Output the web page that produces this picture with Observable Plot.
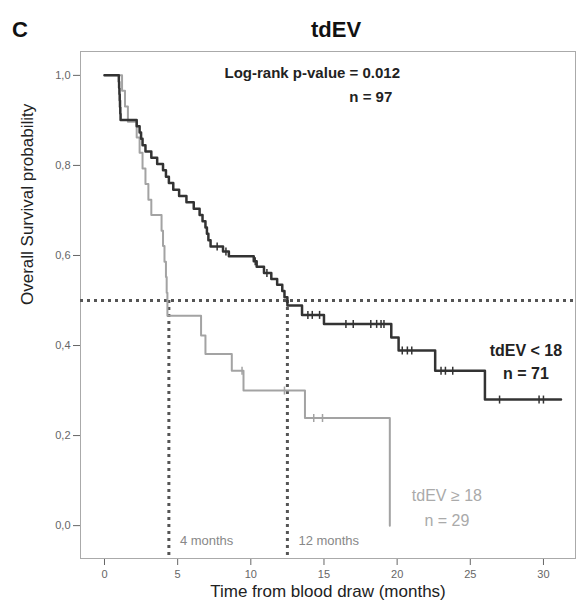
<!DOCTYPE html>
<html>
<head>
<meta charset="utf-8">
<script src="https://cdn.jsdelivr.net/npm/d3@7"></script>
<script src="https://cdn.jsdelivr.net/npm/@observablehq/plot@0.6"></script>
<style>
  body { margin: 0; background: #fff; font-family: "Liberation Sans", Arial, sans-serif; }
  #wrap { width: 578px; height: 605px; position: relative; }
  #title { height: 50px; position: relative; }
  #panel { position: absolute; left: 12px; top: 17px; font-size: 22px; font-weight: bold; color: #111; }
  #main { position: absolute; left: 336px; top: 17px; transform: translateX(-50%); font-size: 22px; font-weight: bold; color: #111; }
</style>
</head>
<body>
<div id="wrap">
  <div id="title"><span id="panel">C</span><span id="main">tdEV</span></div>
  <div id="chart"></div>
</div>
<script>
// tdEV < 18 (n = 71): Kaplan-Meier step times (months) and survival after each step
const lowTimes = [0, 0.98, 1.0, 1.02, 1.04, 1.06, 1.08, 1.1, 2.2, 2.4, 2.5, 2.6, 2.8, 3.2, 3.6, 4.0, 4.2, 4.4, 4.7, 5.1, 5.6, 6.1, 6.5, 6.7, 6.9, 7.0, 7.1, 7.25, 8.1, 8.5, 10.2, 10.4, 10.9, 11.4, 11.8, 12.15, 12.3, 12.5, 13.5, 15.0, 19.6, 20.1, 22.6, 26.0, 31.2];
const lowSurv = [1, .986, .972, .958, .944, .930, .915, .901, .887, .873, .859, .845, .831, .817, .803, .789, .775, .761, .746, .732, .718, .704, .690, .676, .662, .648, .634, .620, .609, .598, .587, .575, .561, .548, .535, .521, .507, .489, .468, .448, .418, .389, .344, .280, .280];
const lowCensorTimes = [7.7, 8.3, 10.3, 11.1, 13.9, 14.2, 14.7, 16.5, 17.0, 18.2, 18.6, 18.9, 19.1, 20.35, 20.7, 21.0, 23.0, 23.3, 23.8, 27.0, 29.7, 30.0];
const lowCensorSurv = [.620, .609, .587, .561, .468, .468, .468, .448, .448, .448, .448, .448, .448, .389, .389, .389, .344, .344, .344, .280, .280, .280];

// tdEV >= 18 (n = 29)
const highTimes = [0, 1.2, 1.4, 1.6, 2.2, 2.4, 2.6, 2.8, 3.0, 3.2, 3.9, 4.0, 4.1, 4.2, 4.25, 4.3, 6.6, 6.9, 8.7, 9.5, 13.7, 19.5];
const highSurv = [1, .966, .931, .897, .862, .828, .793, .759, .724, .690, .655, .621, .586, .552, .517, .466, .422, .381, .344, .300, .239, 0];
const highCensorTimes = [9.4, 12.3, 14.3, 14.9];
const highCensorSurv = [.344, .300, .239, .239];

// medians
const medianLabels = ["4 months", "12 months"];
const medianTimes = [4.4, 12.5];
const medianSurv = 0.5;

const xTicks = [0, 5, 10, 15, 20, 25, 30];
const yTicks = [0, 0.2, 0.4, 0.6, 0.8, 1.0];

const xDomain = [-1.64, 32.19];
const yDomain = [-0.073, 1.053];

const lowData = lowTimes.map((t, i) => ({t, s: lowSurv[i]}));
const highData = highTimes.map((t, i) => ({t, s: highSurv[i]}));
const lowCensor = lowCensorTimes.map((t, i) => ({t, s: lowCensorSurv[i]}));
const highCensor = highCensorTimes.map((t, i) => ({t, s: highCensorSurv[i]}));
const medians = medianTimes.map((t, i) => ({t, label: medianLabels[i]}));

const vbar = {
  draw(context, size) {
    const h = Math.sqrt(size / Math.PI);
    context.moveTo(0, -h);
    context.lineTo(0, h);
  }
};

const dotted = {stroke: "#555", strokeWidth: 3, strokeDasharray: "3,4"};

const chart = Plot.plot({
  width: 578,
  height: 555,
  marginLeft: 80,
  marginRight: 3,
  marginTop: 1,
  marginBottom: 47,
  style: {fontFamily: "'Liberation Sans', Arial, sans-serif", fontSize: "11px", color: "#666", background: "#fff"},
  x: {domain: xDomain, ticks: xTicks, tickSize: 7, tickPadding: 5, label: null, line: true},
  y: {domain: yDomain, ticks: yTicks, tickSize: 7, tickPadding: 3, label: null, line: true,
      tickFormat: d => d.toFixed(1).replace(".", ",")},
  marks: [
    Plot.frame({stroke: "#aaa"}),
    Plot.ruleY([medianSurv], {x1: xDomain[0], x2: xDomain[1], ...dotted}),
    Plot.ruleX(medians, {x: "t", y1: medianSurv, y2: yDomain[0], ...dotted}),
    Plot.line(highData, {x: "t", y: "s", curve: "step-after", stroke: "#a3a3a3", strokeWidth: 2}),
    Plot.dot(highCensor, {x: "t", y: "s", symbol: vbar, r: 4, fill: "none", stroke: "#a3a3a3", strokeWidth: 1.5}),
    Plot.line(lowData, {x: "t", y: "s", curve: "step-after", stroke: "#333", strokeWidth: 2.5}),
    Plot.dot(lowCensor, {x: "t", y: "s", symbol: vbar, r: 4, fill: "none", stroke: "#333", strokeWidth: 1.5}),
    Plot.text(medians, {x: "t", y: -0.033, text: "label", textAnchor: "start", dx: 11, fill: "#888", fontSize: 13}),
    Plot.text(["Log-rank p-value = 0.012"], {x: 14.2, y: 1.004, fill: "#222", fontSize: 15, fontWeight: "bold"}),
    Plot.text(["n = 97"], {x: 18.2, y: 0.951, fill: "#222", fontSize: 15, fontWeight: "bold"}),
    Plot.text(["tdEV < 18"], {x: 28.8, y: 0.389, fill: "#222", fontSize: 16, fontWeight: "bold"}),
    Plot.text(["n = 71"], {x: 28.8, y: 0.337, fill: "#222", fontSize: 16, fontWeight: "bold"}),
    Plot.text(["tdEV ≥ 18"], {x: 23.4, y: 0.067, fill: "#aaa", fontSize: 16}),
    Plot.text(["n = 29"], {x: 23.4, y: 0.011, fill: "#aaa", fontSize: 16}),
    Plot.text(["Time from blood draw (months)"], {frameAnchor: "bottom", dy: 38, fill: "#222", fontSize: 17}),
    Plot.text(["Overall Survival probability"], {frameAnchor: "left", rotate: -90, dx: -53, fill: "#222", fontSize: 17})
  ]
});
document.getElementById("chart").appendChild(chart);
</script>
</body>
</html>
